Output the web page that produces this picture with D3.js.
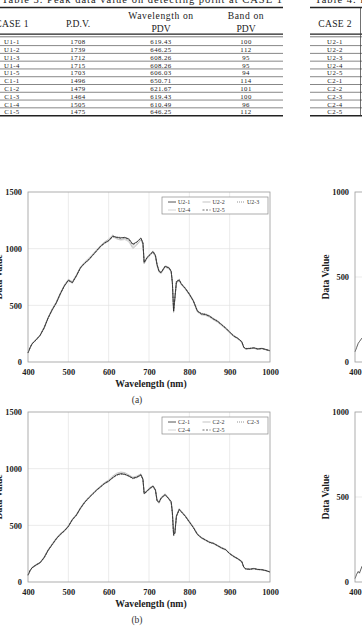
<!DOCTYPE html>
<html>
<head>
<meta charset="utf-8">
<script src="https://cdnjs.cloudflare.com/ajax/libs/d3/7.8.5/d3.min.js"></script>
<style>
  body { margin: 0; background: #fff; }
  svg { display: block; font-family: "Liberation Serif", "DejaVu Serif", serif; }
</style>
</head>
<body>
<svg id="page" width="362" height="629"></svg>
<script>
// ---- table data ----
var case1 = ['U1-1','U1-2','U1-3','U1-4','U1-5','C1-1','C1-2','C1-3','C1-4','C1-5'];
var pdv1 = ['1708','1739','1712','1715','1703','1496','1479','1464','1505','1475'];
var wave1 = ['619.43','646.25','608.26','608.26','606.03','650.71','621.67','619.43','610.49','646.25'];
var band1 = ['100','112','95','95','94','114','101','100','96','112'];
var case2 = ['U2-1','U2-2','U2-3','U2-4','U2-5','C2-1','C2-2','C2-3','C2-4','C2-5'];

// ---- spectra (wavelength nm -> data value) ----
var wl = [400,405,410,420,430,440,450,460,470,480,490,500,510,520,530,540,550,560,570,580,590,600,610,620,630,640,650,660,670,680,
  685,688,695,700,710,716,720,725,730,740,750,755,758,761,764,768,775,780,790,800,810,820,830,840,850,860,870,880,890,900,910,920,930,935,
  940,950,960,970,980,990,1000];

var namesA = ['U2-1','U2-2','U2-3','U2-4','U2-5'];
var u1 = [80,125,160,195,235,300,390,460,520,600,670,720,700,760,830,870,900,940,980,1020,1050,1070,1110,1100,1095,1100,1085,1040,1060,1095,
  1050,880,920,940,975,940,860,800,790,845,830,800,700,450,560,710,725,690,650,600,540,450,425,420,405,380,360,330,300,265,230,210,180,130,
  118,120,125,115,120,110,100];
var u2 = [85,120,165,200,240,310,395,470,530,610,680,730,710,770,840,880,915,950,990,1030,1060,1085,1120,1090,1080,1090,1070,1010,1040,1080,
  1040,870,915,935,970,930,850,795,785,840,825,795,690,440,550,700,720,685,645,595,535,445,420,415,400,375,355,325,295,260,228,205,175,128,
  115,118,122,112,118,108,98];
var u3 = [78,128,158,190,230,295,385,455,515,595,665,715,695,755,825,865,895,935,975,1015,1045,1065,1100,1105,1100,1095,1090,1030,1055,1090,
  1055,875,925,945,980,945,865,805,795,850,835,805,705,455,565,715,730,695,655,605,545,455,430,425,410,385,365,335,305,270,235,212,182,132,
  120,122,127,118,122,112,102];
var u4 = [82,122,162,198,238,305,392,465,525,605,675,725,705,765,835,875,905,945,985,1025,1055,1075,1105,1085,1075,1080,1060,1000,1030,1075,
  1035,865,910,930,965,925,845,790,780,835,820,790,685,435,545,695,715,680,640,590,530,440,415,410,395,370,350,320,290,255,225,202,172,126,
  114,116,120,110,116,106,96];
var u5 = [80,126,160,196,236,302,388,462,522,602,672,722,702,762,832,872,902,942,982,1022,1052,1072,1112,1098,1092,1098,1082,1035,1058,1092,
  1048,878,918,938,972,938,858,798,788,843,828,798,698,448,558,708,722,688,648,598,538,448,423,418,403,378,358,328,298,262,228,208,178,128,
  116,119,124,114,119,109,99];

var namesB = ['C2-1','C2-2','C2-3','C2-4','C2-5'];
var c1 = [60,100,125,150,170,215,280,330,380,420,450,490,550,590,650,700,740,775,810,840,870,890,920,945,955,950,935,915,925,945,
  905,780,800,820,845,810,715,705,740,770,730,710,620,420,430,580,640,620,580,530,480,420,390,370,350,340,320,300,285,250,225,205,180,130,
  115,112,118,110,108,100,88];
var c2 = [65,95,130,155,175,222,288,338,388,428,458,498,556,598,658,708,748,782,818,848,878,900,935,960,970,965,945,925,935,955,
  912,790,808,828,852,818,728,708,748,778,738,708,608,418,438,590,648,628,588,538,488,428,395,375,355,345,325,305,290,255,230,210,185,134,
  118,115,121,113,111,103,90];
var c3 = [58,104,122,146,166,210,275,325,375,414,445,485,545,585,645,695,735,770,805,835,865,885,915,940,950,948,930,910,920,940,
  900,775,795,815,840,805,712,695,735,765,725,695,595,405,425,575,635,615,575,525,475,415,386,366,346,336,316,296,281,246,221,201,176,127,
  112,110,116,108,106,98,86];
var c4 = [62,98,128,152,172,218,282,333,383,423,453,493,552,594,652,703,743,778,812,842,872,893,925,950,962,958,940,918,928,948,
  908,784,803,823,848,813,723,703,743,773,733,703,603,413,432,584,643,623,583,533,483,423,392,372,352,342,322,302,287,252,227,207,182,132,
  116,114,119,111,109,101,89];
var c5 = [60,101,126,151,171,216,281,331,381,421,451,491,551,591,651,701,741,776,811,841,871,891,922,946,956,951,936,916,926,946,
  906,781,801,821,846,811,721,701,741,771,731,701,601,411,431,581,641,621,581,531,481,421,391,371,351,341,321,301,286,251,226,206,181,131,
  116,113,119,111,109,101,89];

// right-hand figures, only their first few nm are on the page
var wlR = [400,404,408,411,417,425];
var r1 = [60,85,110,120,140,160];
var r2 = [20,45,62,52,90,120];

var xTicks = [400,500,600,700,800,900,1000];

// line looks, in legend order
var looks = [
  { color: '#2a2a2a', dash: null },
  { color: '#b4b4b4', dash: null },
  { color: '#7a7a7a', dash: '1,1' },
  { color: '#c9c9c9', dash: null },
  { color: '#444', dash: '2,1.5' }
];

var svg = d3.select('#page');
svg.append('rect').attr('width', 362).attr('height', 629).attr('fill', '#fff');

// ---------------- tables ----------------
function drawTables() {
  var t = svg.append('g').attr('fill', '#222');
  var rowY = i => 41.7 + i * 7.78;

  t.append('text').attr('x', 283).attr('y', 3).attr('text-anchor', 'end')
    .attr('font-size', 10.5).attr('letter-spacing', 1)
    .text('Table 3. Peak data value on detecting point at CASE 1');
  t.append('text').attr('x', 315).attr('y', 3).attr('font-size', 10.5).attr('letter-spacing', 1)
    .text('Table 4. Peak data value on detecting point at CASE 2');

  // rules
  function rule(x1, x2, y, w) {
    t.append('line').attr('x1', x1).attr('x2', x2).attr('y1', y).attr('y2', y)
      .attr('stroke', '#222').attr('stroke-width', w);
  }
  [[0, 283], [310, 362]].forEach(r => {
    rule(r[0], r[1], 7.5, 1.4);
    rule(r[0], r[1], 34.2, 1.2);
    rule(r[0], r[1], 36.8, 0.6);
    for (var i = 0; i < 9; i++) rule(r[0], r[1], rowY(i) + 3.9, 0.55);
    rule(r[0], r[1], 115.8, 1.4);
  });
  t.append('line').attr('x1', 360.5).attr('x2', 360.5).attr('y1', 7.5).attr('y2', 116)
    .attr('stroke', '#333').attr('stroke-width', 0.7);

  // header
  var hd = t.append('g').attr('font-size', 9.6).attr('text-anchor', 'middle');
  hd.append('text').attr('x', 12).attr('y', 26.5).attr('letter-spacing', 0.3).text('CASE 1');
  hd.append('text').attr('x', 78).attr('y', 26.5).text('P.D.V.');
  hd.append('text').attr('x', 161).attr('y', 19).attr('letter-spacing', 0.6).text('Wavelength on');
  hd.append('text').attr('x', 161).attr('y', 32).text('PDV');
  hd.append('text').attr('x', 246).attr('y', 19).attr('letter-spacing', 0.6).text('Band on');
  hd.append('text').attr('x', 246).attr('y', 32).text('PDV');
  hd.append('text').attr('x', 335).attr('y', 26.5).attr('letter-spacing', 0.3).text('CASE 2');

  // rows are packed tight in the scan, so a small face spread out a bit
  var cols = [[case1, 12], [pdv1, 78], [wave1, 161], [band1, 246], [case2, 335]];
  cols.forEach(c => {
    t.append('g').attr('font-size', 6.8).attr('letter-spacing', 0.45).attr('text-anchor', 'middle')
      .selectAll('text').data(c[0]).enter().append('text')
        .attr('x', c[1]).attr('y', (d, i) => rowY(i) + 2.6)
        .text(d => d);
  });
}

// ---------------- charts ----------------
function drawChart(o) {
  var g = svg.append('g');
  var x = d3.scaleLinear().domain([400, 1000]).range([o.left, o.left + 242]);
  var y = d3.scaleLinear().domain([0, o.yMax]).range([o.bottom, o.bottom - 170]);

  // grid
  g.append('g').selectAll('line').data(xTicks.slice(1, -1)).enter().append('line')
    .attr('x1', d => x(d)).attr('x2', d => x(d)).attr('y1', y(0)).attr('y2', y(o.yMax))
    .attr('stroke', '#e3e3e3').attr('stroke-width', 0.7);
  g.append('g').selectAll('line').data(o.yTicks.slice(1, -1)).enter().append('line')
    .attr('x1', x(400)).attr('x2', x(1000)).attr('y1', d => y(d)).attr('y2', d => y(d))
    .attr('stroke', '#e3e3e3').attr('stroke-width', 0.7);

  // series
  var line = d3.line().x(d => x(d[0])).y(d => y(d[1]));
  var order = [3, 1, 2, 4, 0];
  order.forEach(k => {
    if (!o.series[k]) return;
    var pts = o.wl.map((w, i) => [w, o.series[k][i]]);
    g.append('path').datum(pts).attr('d', line)
      .attr('fill', 'none').attr('stroke', looks[k].color).attr('stroke-width', 0.75)
      .attr('stroke-dasharray', looks[k].dash);
  });

  // frame
  g.append('rect').attr('x', x(400)).attr('y', y(o.yMax))
    .attr('width', x(1000) - x(400)).attr('height', y(0) - y(o.yMax))
    .attr('fill', 'none').attr('stroke', '#9a9a9a').attr('stroke-width', 0.8);

  // axes
  var xa = g.append('g').attr('transform', `translate(0,${y(0)})`)
    .call(d3.axisBottom(x).tickValues(xTicks).tickSize(0).tickPadding(7).tickFormat(d3.format('d')));
  var ya = g.append('g').attr('transform', `translate(${x(400)},0)`)
    .call(d3.axisLeft(y).tickValues(o.yTicks).tickSize(0).tickPadding(6).tickFormat(d3.format('d')));
  [xa, ya].forEach(a => {
    a.select('.domain').remove();
    a.selectAll('text').attr('font-family', '"Liberation Serif", serif').attr('font-size', 8.4)
      .attr('font-weight', 'bold').attr('fill', '#222');
  });

  g.append('text').attr('transform', `translate(${o.left - 30},${(y(0) + y(o.yMax)) / 2}) rotate(-90)`)
    .attr('text-anchor', 'middle').attr('dominant-baseline', 'central')
    .attr('font-size', 9.6).attr('font-weight', 'bold').attr('fill', '#222')
    .text('Data Value');

  g.append('text').attr('x', o.left + 123).attr('y', o.bottom + 25)
    .attr('text-anchor', 'middle').attr('font-size', 9.7).attr('font-weight', 'bold').attr('fill', '#222')
    .text('Wavelength (nm)');

  if (o.caption) {
    g.append('text').attr('x', o.left + 109).attr('y', o.bottom + 40.5)
      .attr('text-anchor', 'middle').attr('font-size', 9.5).attr('fill', '#333')
      .text(o.caption);
  }

  // legend
  if (o.names) {
    var lx = o.left + 134, ly = y(o.yMax) + 5;
    g.append('rect').attr('x', lx).attr('y', ly).attr('width', 106).attr('height', 17)
      .attr('fill', '#fff').attr('stroke', '#8a8a8a').attr('stroke-width', 0.7);
    var item = g.append('g').selectAll('g').data(o.names).enter().append('g')
      .attr('transform', (d, i) => `translate(${lx + 6 + (i % 3) * 34.5},${ly + 5 + Math.floor(i / 3) * 8})`);
    item.append('line').attr('x1', 0).attr('x2', 8).attr('y1', 0).attr('y2', 0)
      .attr('stroke', (d, i) => looks[i].color).attr('stroke-width', 0.8)
      .attr('stroke-dasharray', (d, i) => looks[i].dash);
    item.append('text').attr('x', 10).attr('y', 2).attr('font-size', 6).attr('fill', '#333').text(d => d);
  }
}

drawTables();

drawChart({ left: 28, bottom: 362, yMax: 1500, yTicks: [0, 500, 1000, 1500], wl: wl,
  series: [u1, u2, u3, u4, u5], names: namesA, caption: '(a)' });
drawChart({ left: 28, bottom: 582, yMax: 1500, yTicks: [0, 500, 1000, 1500], wl: wl,
  series: [c1, c2, c3, c4, c5], names: namesB, caption: '(b)' });

drawChart({ left: 355, bottom: 362, yMax: 1000, yTicks: [0, 500, 1000], wl: wlR, series: [r1] });
drawChart({ left: 355, bottom: 582, yMax: 1000, yTicks: [0, 500, 1000], wl: wlR, series: [r2] });
</script>
</body>
</html>
